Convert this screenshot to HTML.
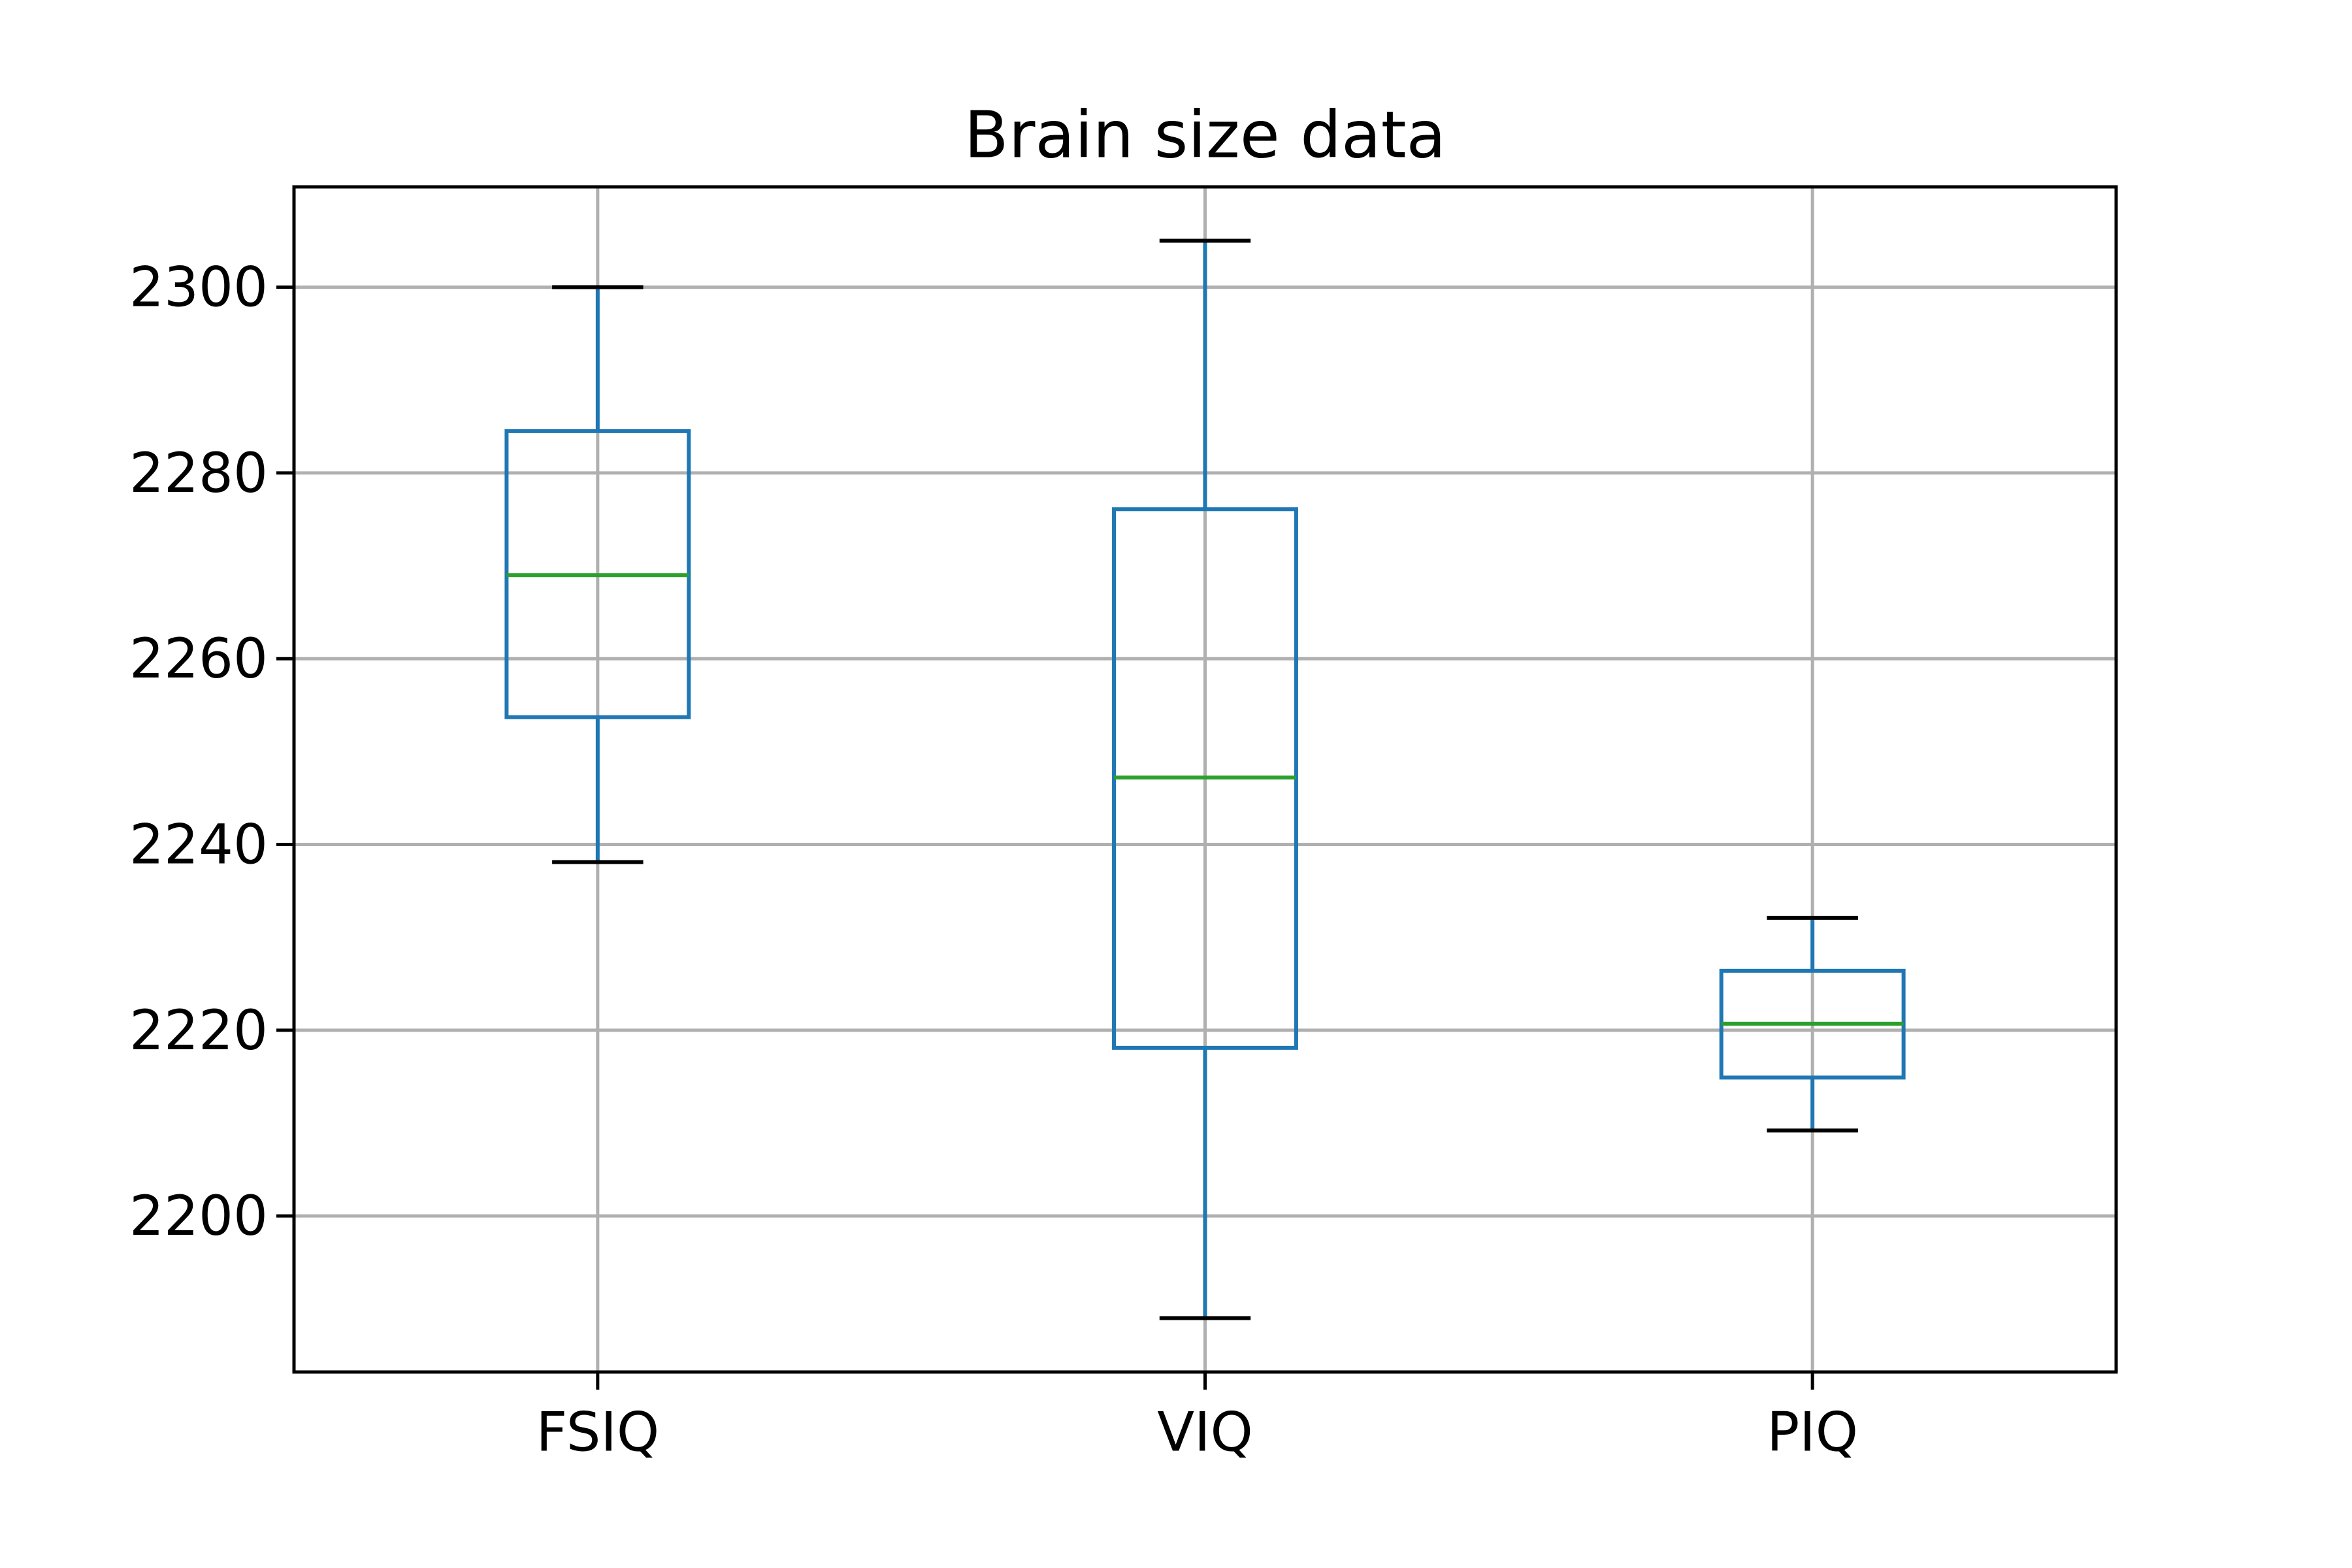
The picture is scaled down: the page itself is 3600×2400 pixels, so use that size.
<!DOCTYPE html>
<html><head><meta charset="utf-8"><style>html,body{margin:0;padding:0;background:#fff}svg{display:block}text{font-family:"DejaVu Sans","Liberation Sans",sans-serif}</style></head>
<body>
<svg id="chart" width="3600" height="2400" viewBox="0 0 3600 2400" xmlns="http://www.w3.org/2000/svg"></svg>
<script>
const categories = ["FSIQ", "VIQ", "PIQ"];
const whiskerLow = [2238.1, 2189, 2209.2];
const q1Values = [2253.7, 2218.1, 2214.9];
const medianValues = [2269.0, 2247.2, 2220.7];
const q3Values = [2284.5, 2276.1, 2226.4];
const whiskerHigh = [2300, 2305, 2232.1];
const yTicks = [2200, 2220, 2240, 2260, 2280, 2300];

const L = 450, R = 3239, T = 286, B = 2100;
const yMin = 2183.2, yMax = 2310.8;
const y = v => B - (v - yMin) / (yMax - yMin) * (B - T);
const x = i => L + (i + 1 - 0.5) / 3 * (R - L);
const unit = (R - L) / 3;
const svg = document.getElementById('chart');
const NS = 'http://www.w3.org/2000/svg';
function mk(tag, attrs, parent) {
  const e = document.createElementNS(NS, tag);
  for (const k in attrs) e.setAttribute(k, attrs[k]);
  (parent || svg).appendChild(e);
  return e;
}
yTicks.forEach(t => {
  const g = mk('line', {x1: L, x2: R, y1: y(t), y2: y(t), stroke: '#b0b0b0', 'stroke-width': 5});
  
  
  const tk = mk('line', {x1: L - 27, x2: L, y1: y(t), y2: y(t), stroke: '#000', 'stroke-width': 5});
  
  
  const lb = mk('text', {x: L - 40, y: y(t), 'font-size': 84, 'text-anchor': 'end', 'dominant-baseline': 'central', textLength: 212, lengthAdjust: 'spacingAndGlyphs'});
  lb.textContent = t;
  
  
});
categories.forEach((c, i) => {
  const cx = x(i);
  const g = mk('line', {x1: cx, x2: cx, y1: T, y2: B, stroke: '#b0b0b0', 'stroke-width': 5});
  
  
  const tk = mk('line', {x1: cx, x2: cx, y1: B, y2: B + 27, stroke: '#000', 'stroke-width': 5});
  
  
  const lb = mk('text', {x: cx, y: B + 92, 'font-size': 83, 'text-anchor': 'middle', 'dominant-baseline': 'central'});
  lb.textContent = c;
  
  
});
categories.forEach((c, i) => {
  const cx = x(i), hw = unit * 0.15, cw = unit * 0.075;
  const grp = mk('g', {});
  
  
  const w1 = mk('line', {x1: cx, x2: cx, y1: y(q1Values[i]), y2: y(whiskerLow[i]), stroke: '#1f77b4', 'stroke-width': 6}, grp);
  
  
  const w2 = mk('line', {x1: cx, x2: cx, y1: y(q3Values[i]), y2: y(whiskerHigh[i]), stroke: '#1f77b4', 'stroke-width': 6}, grp);
  
  
  const c1 = mk('line', {x1: cx - cw, x2: cx + cw, y1: y(whiskerLow[i]), y2: y(whiskerLow[i]), stroke: '#000', 'stroke-width': 6}, grp);
  
  
  const c2 = mk('line', {x1: cx - cw, x2: cx + cw, y1: y(whiskerHigh[i]), y2: y(whiskerHigh[i]), stroke: '#000', 'stroke-width': 6}, grp);
  
  
  const bx = mk('rect', {x: cx - hw, y: y(q3Values[i]), width: 2 * hw, height: y(q1Values[i]) - y(q3Values[i]), fill: 'none', stroke: '#1f77b4', 'stroke-width': 6}, grp);
  
  
  const md = mk('line', {x1: cx - hw, x2: cx + hw, y1: y(medianValues[i]), y2: y(medianValues[i]), stroke: '#2ca02c', 'stroke-width': 6}, grp);
  
  
});
const fr = mk('rect', {x: L, y: T, width: R - L, height: B - T, fill: 'none', stroke: '#000', 'stroke-width': 5});


const ti = mk('text', {x: (L + R) / 2, y: 207, 'font-size': 99, 'text-anchor': 'middle', 'dominant-baseline': 'central'});
ti.textContent = 'Brain size data';


</script>
</body></html>
